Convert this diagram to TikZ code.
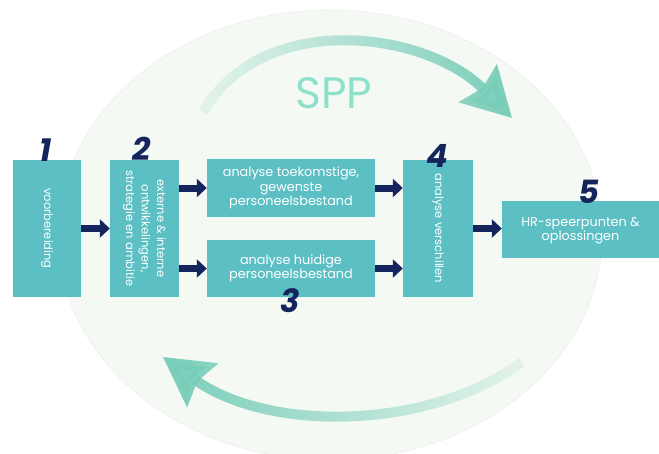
\documentclass[tikz,border=0pt]{standalone}
\usepackage{fontspec}
\setmainfont{Poppins}
\usetikzlibrary{arrows.meta,fadings}
\definecolor{boxc}{HTML}{5CBFC4}
\definecolor{navy}{HTML}{13255C}
\definecolor{arcc}{HTML}{78CDB9}
\definecolor{sppc}{HTML}{8EE0CB}
\definecolor{bgc}{HTML}{F4F9F3}
\tikzfading[name=fadein, left color=transparent!88, right color=transparent!0]
\tikzfading[name=fadeout, left color=transparent!0, right color=transparent!88]
\tikzset{
  box/.style={fill=boxc, draw=none, inner sep=2pt, text=white, align=center},
  htext/.style={font=\fontsize{12.8}{14.5}\selectfont},
  vtext/.style={font=\fontsize{11.5}{15.5}\selectfont},
  navarrow/.style={draw=navy, line width=7pt, -{Triangle[length=10pt,width=18pt]}},
  arcarrow/.style={draw=arcc, line width=10pt, -{Stealth[length=48pt,width=52pt,inset=6pt]}},
  num/.style={text=navy, font=\fontsize{32}{32}\selectfont\bfseries\itshape, inner sep=0pt}
}
\begin{document}
\begin{tikzpicture}[x=1pt,y=-1pt]
\useasboundingbox (0,0) rectangle (659,453);
\fill[white] (0,0) rectangle (659,453);
\fill[bgc] (330,235) ellipse [x radius=272, y radius=225];
\draw[gray!12, line width=0.8pt] (330,235) ellipse [x radius=272, y radius=225];
% cycle arrows
\coordinate (ta) at (203,112);
\coordinate (tb) at (512,118);
\draw[arcarrow, path fading=fadein] (ta) .. controls (262,10) and (425,30) .. (tb);
\coordinate (ba) at (522,362);
\coordinate (bb) at (163,357);
\draw[arcarrow, path fading=fadeout] (ba) .. controls (430,430) and (270,433) .. (bb);
\node[text=sppc, font=\fontsize{44}{44}\selectfont, inner sep=0pt] (spp) at (334,93) {SPP};
% boxes
\node[box, minimum width=68pt, minimum height=137pt] (b1) at (47,228.5) {};
\node[box, vtext, rotate=-90] (t1) at (b1.center) {voorbereiding};
\node[box, minimum width=69pt, minimum height=137pt] (b2) at (144.5,228.5) {};
\node[box, vtext, rotate=-90] (t2) at (b2.center) {externe \& interne\\ontwikkelingen,\\strategie en ambitie};
\node[box, htext, minimum width=168pt, minimum height=58pt] (b3a) at (291,188) {analyse toekomstige,\\gewenste\\personeelsbestand};
\node[box, htext, minimum width=168pt, minimum height=57pt] (b3b) at (291,268.5) {analyse huidige\\personeelsbestand};
\node[box, minimum width=70pt, minimum height=137pt] (b4) at (438,228.5) {};
\node[box, vtext, rotate=-90] (t4) at (b4.center) {analyse verschillen};
\node[box, htext, minimum width=157pt, minimum height=57pt, text depth=0pt] (b5) at (580.5,229) {HR-speerpunten \&\\oplossingen};
% connectors
\draw[navarrow] (b1.east) -- (b2.west);
\draw[navarrow] (b2.east |- b3a.west) -- (b3a.west);
\draw[navarrow] (b2.east |- b3b.west) -- (b3b.west);
\draw[navarrow] (b3a.east) -- (b3a.east -| b4.west);
\draw[navarrow] (b3b.east) -- (b3b.east -| b4.west);
\draw[navarrow] (b4.east) -- (b4.east -| b5.west);
% numbers
\node[num] (n1) at (46,150) {1};
\node[num] (n2) at (142,149) {2};
\node[num] (n3) at (290,301) {3};
\node[num] (n4) at (437,156) {4};
\node[num] (n5) at (589,192) {5};
\end{tikzpicture}
\end{document}
